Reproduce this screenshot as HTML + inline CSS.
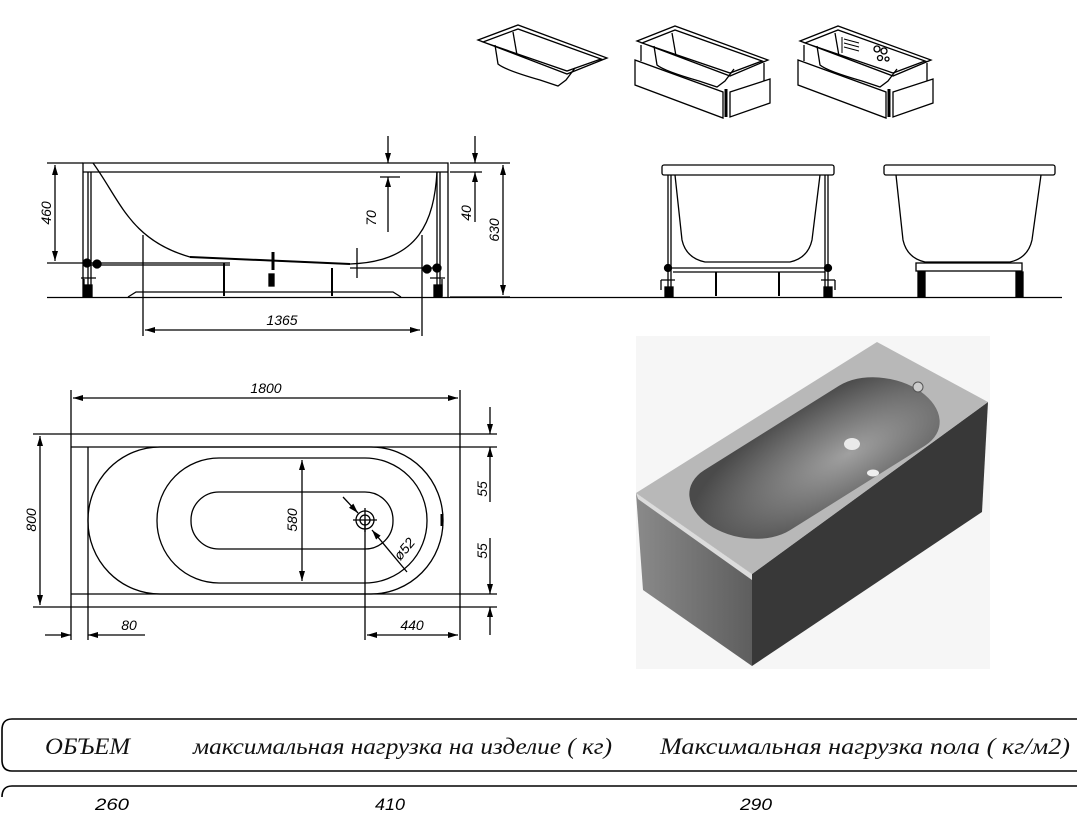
<!DOCTYPE html>
<html><head><meta charset="utf-8"><style>
html,body{margin:0;padding:0;background:#fff;width:1077px;height:821px;overflow:hidden}
svg{display:block}
.t{font-family:"Liberation Sans",sans-serif;font-style:italic;font-size:14px;fill:#000}
.s{font-family:"Liberation Serif","Noto Serif CJK SC",serif;font-style:italic;font-size:23px;fill:#111}
</style></head><body>
<svg width="1077" height="821" viewBox="0 0 1077 821" xmlns="http://www.w3.org/2000/svg">
<defs>
<marker id="a" viewBox="0 0 10 6" refX="10" refY="3" markerWidth="10" markerHeight="6" orient="auto-start-reverse" markerUnits="userSpaceOnUse"><path d="M0,0 L10,3 L0,6 z" fill="#000"/></marker>
<linearGradient id="lf" x1="0" y1="0" x2="1" y2="0"><stop offset="0" stop-color="#8a8a8a"/><stop offset="1" stop-color="#5e5e5e"/></linearGradient>
<radialGradient id="bs" cx="0.6" cy="0.65" r="0.7"><stop offset="0" stop-color="#a0a0a0"/><stop offset="0.6" stop-color="#6e6e6e"/><stop offset="1" stop-color="#4a4a4a"/></radialGradient>
</defs>
<g fill="none" stroke="#000" stroke-width="1.3">
<!-- top icons -->
<path d="M478,40 L518,25 L607,58 L567,74 Z M483,42 L518,29 L601,59 L567,71 Z"/>
<path d="M495,45 L498,64 Q505,70 540,80 L558,86 L566,80 L575,68"/>
<path d="M513,32 L517,55"/>
<g transform="translate(159,1)">
<path d="M478,40 L516,25 L609,59 L571,75 Z M483,42 L516,29 L603,60 L571,72 Z"/>
<path d="M495,45 L498,64 Q505,70 540,80 L558,86 L566,80 L575,68"/>
<path d="M513,32 L517,55 M482,44 L482,60 M605,62 L605,80"/>
<path d="M476,59 L564,91 L564,117 L476,84 Z M571,91 L611,78 L611,102 L571,116 Z"/>
<path d="M567,88 L567,116" stroke-width="3"/>
</g>
<g transform="translate(322,1)">
<path d="M478,40 L516,25 L609,59 L571,75 Z M483,42 L516,29 L603,60 L571,72 Z"/>
<path d="M495,45 L498,64 Q505,70 540,80 L558,86 L566,80 L575,68"/>
<path d="M513,32 L517,55 M482,44 L482,60 M605,62 L605,80"/>
<path d="M476,59 L564,91 L564,117 L476,84 Z M571,91 L611,78 L611,102 L571,116 Z"/>
<path d="M567,88 L567,116" stroke-width="3"/>
<path d="M522,38 L537,42 M522,42 L537,46 M522,46 L537,50 M520,36 L520,52" stroke-width="1"/>
<circle cx="555" cy="48" r="3"/><circle cx="562" cy="50" r="3"/><circle cx="558" cy="57" r="2.5"/><circle cx="565" cy="58" r="2"/>
</g>
<!-- floor line -->
<path d="M47,297.5 L1062,297.5"/>
<!-- side view -->
<path d="M83,297 L83,163 L448,163 L448,297 M83,172 L448,172"/>
<path d="M93,163 C120,200 130,240 190,257 L350,264 C420,262 434,220 437,172"/>
<path d="M190,257 L350,264" stroke-width="2"/>
<path d="M88,172 L88,290 M91,172 L91,290 M437,172 L437,290 M440,172 L440,290"/>
<path d="M86,263 L230,263 M86,265 L230,265 M350,268 L440,268"/>
<circle cx="87" cy="263" r="4" fill="#000"/><circle cx="97" cy="264" r="4" fill="#000"/><circle cx="437" cy="268" r="4" fill="#000"/><circle cx="427" cy="269" r="4" fill="#000"/>
<path d="M81,278 L96,278 M430,278 L445,278 M84,279 L84,296 M442,279 L442,296"/>
<path d="M128,297 L136,292 L393,292 L401,297"/>
<path d="M224,263 L224,296 M332,268 L332,296" stroke-width="2"/>
<path d="M273,252 L273,270" stroke-width="3"/>
<rect x="269" y="274" width="5" height="12" fill="#000"/>
<path d="M357,248 L357,278"/>
<rect x="84" y="285" width="8" height="12" fill="#000"/><rect x="434" y="285" width="8" height="12" fill="#000"/>
<!-- dims side -->
<path d="M47,163 L83,163 M47,263 L86,263"/>
<path d="M55,165 L55,261" marker-start="url(#a)" marker-end="url(#a)"/>
<path d="M143,235 L143,336 M422,235 L422,336"/>
<path d="M145,330 L420,330" marker-start="url(#a)" marker-end="url(#a)"/>
<path d="M388,136 L388,163" marker-end="url(#a)"/><path d="M388,232 L388,177" marker-end="url(#a)"/>
<path d="M380,177 L400,177"/>
<path d="M450,163 L510,163 M450,172 L482,172 M450,297 L510,297"/>
<path d="M475,136 L475,163" marker-end="url(#a)"/><path d="M475,222 L475,172" marker-end="url(#a)"/>
<path d="M503,165 L503,295" marker-start="url(#a)" marker-end="url(#a)"/>
<!-- end view 1 -->
<rect x="662" y="165" width="172" height="10" rx="2"/>
<path d="M675,175 L682,240 Q686,258 705,262 L790,262 Q808,258 812,240 L820,175"/>
<path d="M668,175 L668,290 M671,175 L671,290 M825,175 L825,290 M828,175 L828,290"/>
<path d="M668,268 L830,268 M673,272 L825,272"/>
<circle cx="668" cy="268" r="3.5" fill="#000"/><circle cx="828" cy="268" r="3.5" fill="#000"/>
<path d="M716,272 L716,296 M779,272 L779,296" stroke-width="2"/>
<path d="M661,280 L675,280 M661,280 L661,290 M821,280 L835,280 M835,280 L835,290"/>
<rect x="665" y="287" width="8" height="10" fill="#000"/><rect x="824" y="287" width="8" height="10" fill="#000"/>
<!-- end view 2 -->
<rect x="884" y="165" width="171" height="10" rx="2"/>
<path d="M896,175 L903,240 Q907,258 925,262 L1010,262 Q1028,258 1032,240 L1041,175"/>
<rect x="916" y="263" width="106" height="8"/>
<rect x="918" y="272" width="7" height="25" fill="#000"/><rect x="1016" y="272" width="7" height="25" fill="#000"/>
<!-- plan view -->
<path d="M33,434 L497,434 M33,607 L497,607 M71,447 L497,447 M71,594 L497,594"/>
<path d="M71,390 L71,640 M460,390 L460,640 M88,447 L88,640 M365,520 L365,640"/>
<rect x="88" y="447" width="355" height="147" rx="72" ry="73"/>
<rect x="157" y="458" width="270" height="125" rx="62" ry="62"/>
<rect x="191" y="492" width="202" height="57" rx="28" ry="28"/>
<circle cx="365" cy="520" r="9"/><circle cx="365" cy="520" r="5"/><path d="M353,520 L377,520 M365,508 L365,532"/>
<path d="M343,497 L358,513" marker-end="url(#a)"/><path d="M407,572 L372,530" marker-end="url(#a)"/>
<path d="M442,514 L442,526" stroke-width="3"/>
<path d="M73,398 L458,398" marker-start="url(#a)" marker-end="url(#a)"/>
<path d="M40,436 L40,605" marker-start="url(#a)" marker-end="url(#a)"/>
<path d="M302,460 L302,581" marker-start="url(#a)" marker-end="url(#a)"/>
<path d="M490,407 L490,434" marker-end="url(#a)"/><path d="M490,502 L490,447" marker-end="url(#a)"/>
<path d="M490,538 L490,594" marker-end="url(#a)"/><path d="M490,635 L490,607" marker-end="url(#a)"/>
<path d="M45,635 L71,635" marker-end="url(#a)"/><path d="M145,635 L88,635" marker-end="url(#a)"/>
<path d="M367,635 L458,635" marker-start="url(#a)" marker-end="url(#a)"/>
<!-- table -->
<path d="M1077,719 L12,719 Q2,719 2,730 L2,760 Q2,771 12,771 L1077,771" stroke-width="1.6"/>
<path d="M1077,786 L12,786 Q2,786 2,797" stroke-width="1.6"/>
</g>
<!-- labels -->
<text class="t" transform="translate(51,213) rotate(-90)" text-anchor="middle">460</text>
<text class="t" transform="translate(376,218) rotate(-90)" text-anchor="middle">70</text>
<text class="t" transform="translate(471,213) rotate(-90)" text-anchor="middle">40</text>
<text class="t" transform="translate(499,230) rotate(-90)" text-anchor="middle">630</text>
<text class="t" x="282" y="325" text-anchor="middle">1365</text>
<text class="t" x="266" y="393" text-anchor="middle">1800</text>
<text class="t" transform="translate(36,520) rotate(-90)" text-anchor="middle">800</text>
<text class="t" transform="translate(297,520) rotate(-90)" text-anchor="middle">580</text>
<text class="t" transform="translate(487,489) rotate(-90)" text-anchor="middle">55</text>
<text class="t" transform="translate(487,551) rotate(-90)" text-anchor="middle">55</text>
<text class="t" x="129" y="630" text-anchor="middle">80</text>
<text class="t" x="412" y="630" text-anchor="middle">440</text>
<text class="t" transform="translate(408,552) rotate(-50)" text-anchor="middle">ø52</text>
<!-- 3D render -->
<rect x="636" y="336" width="354" height="333" fill="#f6f6f6"/>
<polygon points="636,493 752,574 752,666 643,590" fill="url(#lf)"/>
<polygon points="752,574 988,402 982,512 752,666" fill="#383838"/>
<polygon points="636,493 877,342 988,402 752,574" fill="#b8b8b8"/>
<polygon points="636,493 752,574 752,580 638,499" fill="#dcdcdc"/>
<g transform="matrix(241,-151,116,81,636,493)">
<rect x="0.06" y="0.13" width="0.88" height="0.74" rx="0.16" ry="0.37" fill="url(#bs)"/>
</g>
<circle cx="918" cy="387" r="5" fill="#ccc" stroke="#555" stroke-width="1"/>
<ellipse cx="852" cy="444" rx="8" ry="6" fill="#eaeaea"/>
<ellipse cx="873" cy="473" rx="6" ry="3.5" fill="#eee"/>
<text class="s" x="45" y="754" textLength="85" lengthAdjust="spacingAndGlyphs">ОБЪЕМ</text>
<text class="s" x="193" y="754" textLength="419" lengthAdjust="spacingAndGlyphs">максимальная нагрузка на изделие ( кг)</text>
<text class="s" x="660" y="754" textLength="410" lengthAdjust="spacingAndGlyphs">Максимальная нагрузка пола ( кг/м2)</text>
<text class="t" x="95" y="810" style="font-size:17px" textLength="34" lengthAdjust="spacingAndGlyphs">260</text>
<text class="t" x="375" y="810" style="font-size:17px" textLength="30" lengthAdjust="spacingAndGlyphs">410</text>
<text class="t" x="740" y="810" style="font-size:17px" textLength="32" lengthAdjust="spacingAndGlyphs">290</text>
</svg>
</body></html>
